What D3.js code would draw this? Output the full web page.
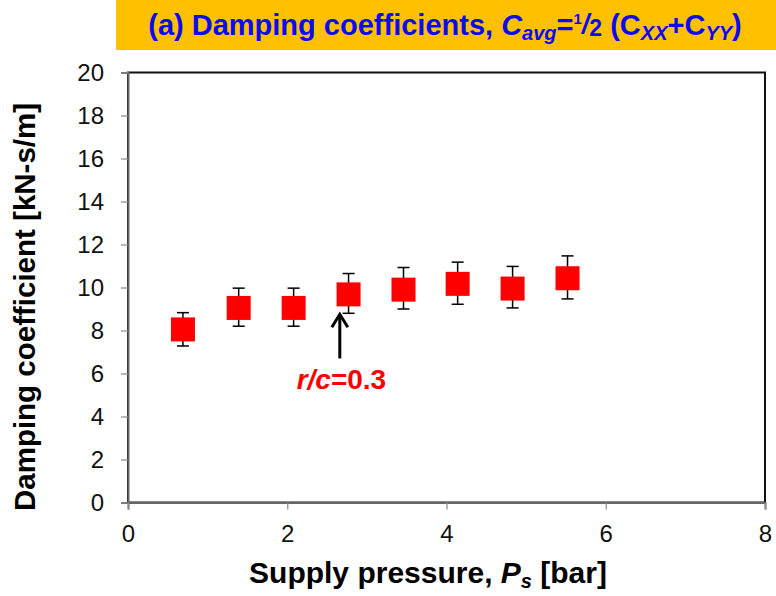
<!DOCTYPE html>
<html>
<head>
<meta charset="utf-8">
<script src="https://cdn.jsdelivr.net/npm/d3@7"></script>
<style>
  html, body { margin: 0; padding: 0; background: #fff; }
  svg { display: block; font-family: "Liberation Sans", Arial, sans-serif; }
</style>
</head>
<body>
<svg id="chart" width="776" height="596"></svg>
<script>
// Measured damping coefficients versus supply pressure
const pressure = [0.69, 1.39, 2.08, 2.77, 3.46, 4.14, 4.83, 5.52];
const damping  = [8.05, 9.05, 9.05, 9.68, 9.90, 10.17, 9.95, 10.43];
const errHigh  = [8.83, 9.97, 9.97, 10.65, 10.93, 11.18, 10.98, 11.47];
const errLow   = [7.28, 8.20, 8.20, 8.80, 9.00, 9.22, 9.05, 9.47];

const xTicks = [0, 2, 4, 6, 8];
const yTicks = [0, 2, 4, 6, 8, 10, 12, 14, 16, 18, 20];

// Annotation: arrow pointing at the r/c = 0.3 point
const noteX = 2.66, noteFrom = 6.7, noteTo = 8.8;
const noteLabelX = 2.68, noteLabelY = 5.27;

const svg = d3.select("#chart");
const plot = { left: 128, right: 765, top: 72.5, bottom: 502.5 };

const x = d3.scaleLinear().domain([0, 8]).range([plot.left, plot.right]);
const y = d3.scaleLinear().domain([0, 20]).range([plot.bottom, plot.top]);

// Title banner
svg.append("rect")
  .attr("x", 116).attr("y", 0).attr("width", 660).attr("height", 50)
  .attr("fill", "#FFC000");

const title = svg.append("text")
  .attr("x", 445).attr("y", 35)
  .attr("text-anchor", "middle")
  .attr("font-size", 29).attr("font-weight", "bold")
  .attr("fill", "#0A0AF5");
title.append("tspan").text("(a) Damping coefficients, ");
title.append("tspan").attr("font-style", "italic").text("C");
title.append("tspan").attr("font-style", "italic").attr("font-size", 20).attr("dy", 5).text("avg");
title.append("tspan").attr("dy", -5).text("=");
title.append("tspan").attr("font-size", 15).attr("dy", -11).text("1");
title.append("tspan").attr("font-size", 27).attr("font-style", "italic").attr("dy", 9).text("/");
title.append("tspan").attr("font-size", 23).attr("dy", 3).text("2");
title.append("tspan").attr("dy", -1).text(" (C");
title.append("tspan").attr("font-size", 20).attr("font-style", "italic").attr("dy", 5).text("XX");
title.append("tspan").attr("dy", -5).text("+C");
title.append("tspan").attr("font-size", 20).attr("font-style", "italic").attr("dy", 5).text("YY");
title.append("tspan").attr("dy", -5).text(")");

// Plot frame
svg.append("rect")
  .attr("x", plot.left).attr("y", plot.top)
  .attr("width", plot.right - plot.left).attr("height", plot.bottom - plot.top)
  .attr("fill", "none").attr("stroke", "#111").attr("stroke-width", 2);

// Axes
const yAxis = svg.append("g")
  .attr("transform", `translate(${plot.left},0)`)
  .call(d3.axisLeft(y).tickValues(yTicks).tickSize(7).tickPadding(17).tickFormat(d3.format("d")));
const xAxis = svg.append("g")
  .attr("transform", `translate(0,${plot.bottom})`)
  .call(d3.axisBottom(x).tickValues(xTicks).tickSize(7).tickPadding(15).tickFormat(d3.format("d")));

[xAxis, yAxis].forEach(g => {
  g.select(".domain").attr("stroke", "#666").attr("stroke-width", 2);
  g.selectAll(".tick line").attr("stroke", "#8a8a8a").attr("stroke-width", 1.2);
  g.selectAll(".tick text")
    .attr("font-size", 24).attr("fill", "#111")
    .attr("font-family", "'Liberation Sans', Arial, sans-serif");
});

// Axis titles
const xt = svg.append("text")
  .attr("x", 428).attr("y", 583)
  .attr("text-anchor", "middle")
  .attr("font-size", 30).attr("font-weight", "bold").attr("fill", "#000");
xt.append("tspan").text("Supply pressure, ");
xt.append("tspan").attr("font-style", "italic").text("P");
xt.append("tspan").attr("font-style", "italic").attr("font-size", 20).attr("dy", 5).text("s");
xt.append("tspan").attr("dy", -5).text(" [bar]");

svg.append("text")
  .attr("transform", "translate(35,307) rotate(-90)")
  .attr("text-anchor", "middle")
  .attr("font-size", 29.5).attr("font-weight", "bold").attr("fill", "#000")
  .text("Damping coefficient [kN-s/m]");

// Error bars
const pts = pressure.map((p, i) => ({ p, c: damping[i], hi: errHigh[i], lo: errLow[i] }));
const eb = svg.append("g").attr("stroke", "#000").attr("stroke-width", 1.5);
pts.forEach(d => {
  eb.append("line").attr("x1", x(d.p)).attr("x2", x(d.p)).attr("y1", y(d.hi)).attr("y2", y(d.lo));
  eb.append("line").attr("x1", x(d.p) - 6).attr("x2", x(d.p) + 6).attr("y1", y(d.hi)).attr("y2", y(d.hi));
  eb.append("line").attr("x1", x(d.p) - 6).attr("x2", x(d.p) + 6).attr("y1", y(d.lo)).attr("y2", y(d.lo));
});

// Square markers
const s = 24;
svg.append("g").selectAll("rect").data(pts).join("rect")
  .attr("x", d => x(d.p) - s / 2).attr("y", d => y(d.c) - s / 2)
  .attr("width", s).attr("height", s)
  .attr("fill", "#FF0000");

// Annotation arrow and label
const ax = x(noteX), ay0 = y(noteFrom), ay1 = y(noteTo);
svg.append("line")
  .attr("x1", ax).attr("x2", ax).attr("y1", ay0).attr("y2", ay1 + 1)
  .attr("stroke", "#000").attr("stroke-width", 3);
svg.append("path")
  .attr("d", `M${ax - 8},${ay1 + 14} L${ax},${ay1 + 1} L${ax + 8},${ay1 + 14}`)
  .attr("fill", "none").attr("stroke", "#000").attr("stroke-width", 3)
  .attr("stroke-linejoin", "miter");

const lbl = svg.append("text")
  .attr("x", x(noteLabelX)).attr("y", y(noteLabelY))
  .attr("text-anchor", "middle")
  .attr("font-size", 28).attr("font-weight", "bold").attr("fill", "#FF0000");
lbl.append("tspan").attr("font-style", "italic").text("r/c");
lbl.append("tspan").text("=0.3");
</script>
</body>
</html>
